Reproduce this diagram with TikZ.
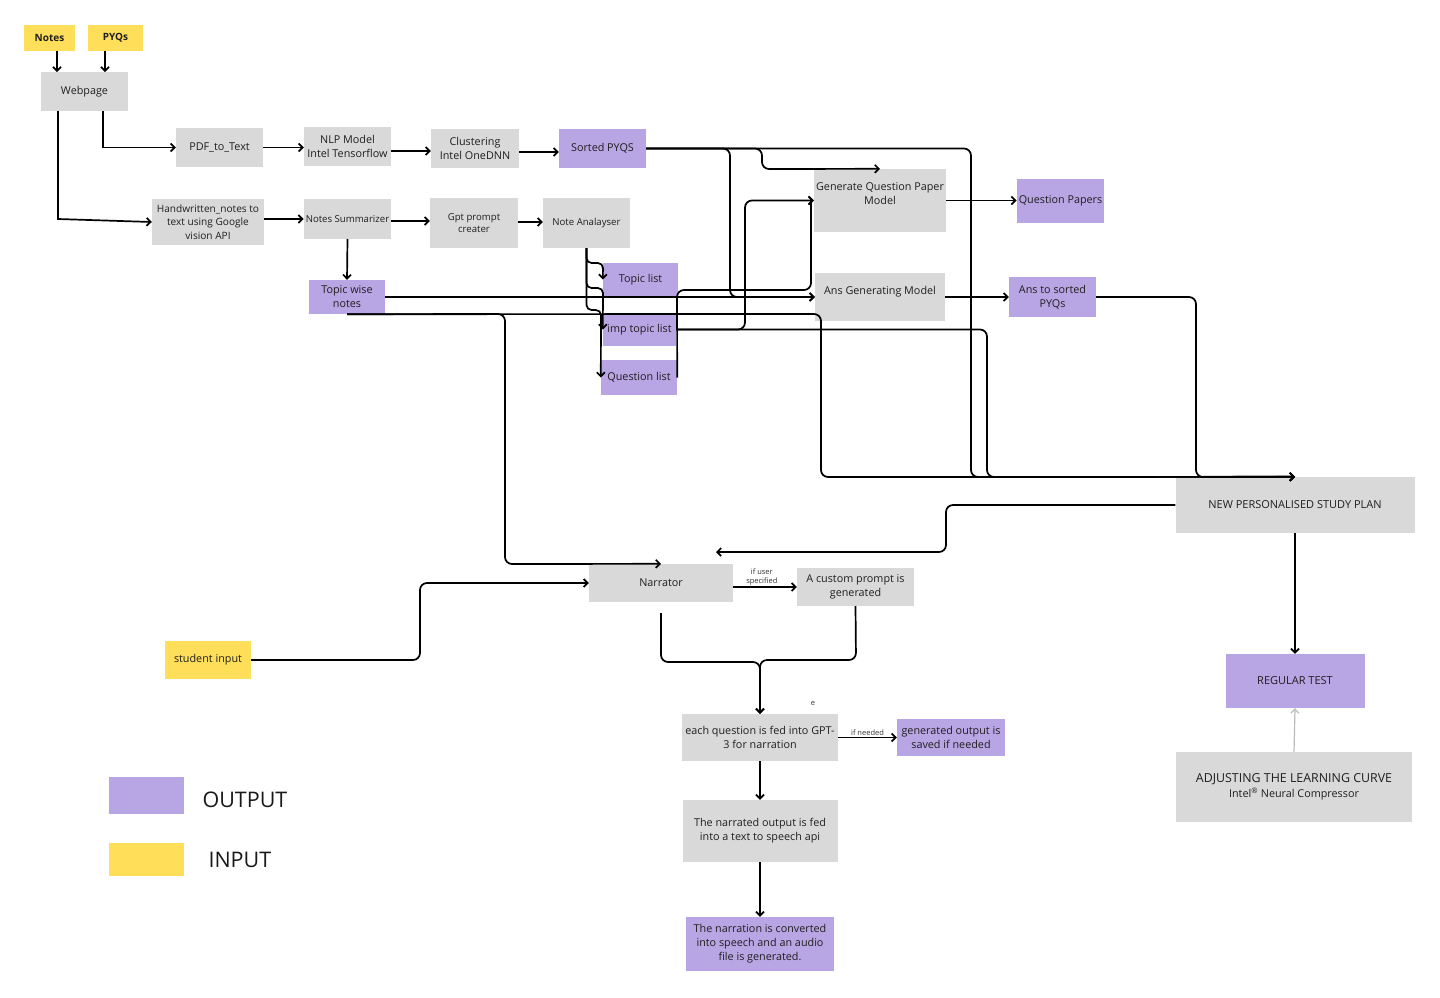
\documentclass[tikz,border=0pt]{standalone}
\usepackage{fontspec}
\setmainfont{Open Sans}
\usetikzlibrary{arrows.meta}

\definecolor{inyellow}{HTML}{FFDE59}
\definecolor{outpurple}{HTML}{B8A5E4}
\definecolor{procgray}{HTML}{D9D9D9}
\definecolor{hintgray}{HTML}{BBBBBB}

\begin{document}
\begin{tikzpicture}[x=1pt, y=-1pt,
    box/.style={rectangle, fill=procgray, inner sep=2pt, align=center, text=black!88,
        font=\fontsize{10.8}{14}\selectfont},
    inbox/.style={box, fill=inyellow},
    outbox/.style={box, fill=outpurple},
    arrow/.style={-{Straight Barb[length=4pt, width=8pt]}, line width=1.7pt, rounded corners=7pt},
    tag/.style={font=\fontsize{7.5}{8.5}\selectfont, align=center, inner sep=1pt, text=black!80}
]
\useasboundingbox (0,0) rectangle (1440,997);

% === INPUTS ===
\node[inbox, minimum width=51, minimum height=26, font=\fontsize{10}{12}\selectfont\bfseries] (notes) at (49.5,38) {Notes};
\node[inbox, minimum width=55, minimum height=26, font=\fontsize{10}{12}\selectfont\bfseries] (pyqs) at (115.5,38) {PYQs};
\node[box, minimum width=87, minimum height=39] (webpage) at (84.5,91.5) {Webpage};

% === PYQ PIPELINE ===
\node[box, minimum width=87, minimum height=39] (pdf) at (219.5,147.5) {PDF\_to\_Text};
\node[box, minimum width=87, minimum height=39] (nlp) at (347.5,146.5) {NLP Model\\Intel Tensorflow};
\node[box, minimum width=88, minimum height=39] (cluster) at (475,148.5) {Clustering\\Intel OneDNN};
\node[outbox, minimum width=87, minimum height=39] (sorted) at (602.5,148.5) {Sorted PYQS};

% === NOTES PIPELINE ===
\node[box, minimum width=112, minimum height=46, font=\fontsize{10.1}{13.5}\selectfont] (hand) at (208,222) {Handwritten\_notes to\\text using Google\\vision API};
\node[box, minimum width=87, minimum height=40, font=\fontsize{9.6}{12}\selectfont] (summ) at (347.5,219) {Notes Summarizer};
\node[box, minimum width=88, minimum height=50, font=\fontsize{9.6}{12.5}\selectfont] (gpt) at (474,223) {Gpt prompt\\creater};
\node[box, minimum width=87, minimum height=50, font=\fontsize{9.6}{12}\selectfont] (analyser) at (586.5,223) {Note Analayser};
\node[outbox, minimum width=76, minimum height=34] (topicnotes) at (347,297) {Topic wise\\notes};
\node[outbox, minimum width=75, minimum height=33] (topiclist) at (640.5,279.5) {Topic list};
\node[outbox, minimum width=73, minimum height=33] (imptopic) at (639.5,329.5) {imp topic list};
\node[outbox, minimum width=76, minimum height=35] (qlist) at (639,377.5) {Question list};

% === MODELS ===
\node[box, minimum width=130, minimum height=63] (gqp) at (880,200.5) {Generate Question Paper\\Model\\[0pt]\mbox{}};
\node[box, minimum width=130, minimum height=48] (ansgen) at (880,297) {Ans Generating Model\\[0pt]\mbox{}};
\node[outbox, minimum width=87, minimum height=44] (qpapers) at (1060.5,200.5) {Question Papers};
\node[outbox, minimum width=87, minimum height=40] (anssorted) at (1052.5,297) {Ans to sorted\\PYQs};

% === STUDY PLAN ===
\node[box, minimum width=239, minimum height=56, font=\fontsize{11}{13}\selectfont] (plan) at (1295,505) {NEW PERSONALISED STUDY PLAN};
\node[outbox, minimum width=139, minimum height=54, font=\fontsize{11}{13}\selectfont] (regtest) at (1295,681) {REGULAR TEST};
\node[box, minimum width=236, minimum height=70, font=\fontsize{12.4}{15}\selectfont] (adjust) at (1294,787) {ADJUSTING THE LEARNING CURVE\\{\fontsize{10.8}{12}\selectfont Intel\textsuperscript{\textregistered} Neural Compressor}};

% === NARRATION ===
\node[box, minimum width=144, minimum height=38] (narrator) at (661,583) {Narrator};
\node[box, minimum width=117, minimum height=38] (custom) at (855.5,587) {A custom prompt is\\generated};
\node[inbox, minimum width=86, minimum height=38] (student) at (208,660) {student input};
\node[box, minimum width=156, minimum height=47] (eachq) at (760,737.5) {each question is fed into GPT-\\3 for narration};
\node[outbox, minimum width=108, minimum height=37] (genout) at (951,737.5) {generated output is\\saved if needed};
\node[box, minimum width=155, minimum height=62] (narrated) at (760,831) {The narrated output is fed\\into a text to speech api};
\node[outbox, minimum width=148, minimum height=54] (converted) at (760,944) {The narration is converted\\into speech and an audio\\file is generated.};
\node[tag] (stray) at (813,703) {e};

% === LEGEND ===
\node[outbox, minimum width=75, minimum height=37] (keyout) at (146.5,795.5) {};
\node[font=\fontsize{21.5}{24}\selectfont, text=black!90, anchor=west] (keyouttext) at (199,800) {OUTPUT};
\node[inbox, minimum width=75, minimum height=33] (keyin) at (146.5,859.5) {};
\node[font=\fontsize{21.5}{24}\selectfont, text=black!90, anchor=west] (keyintext) at (205,860) {INPUT};

% === CONNECTORS: top ===
\draw[arrow] (notes.south -| 57,0) -- (57,72);
\draw[arrow] (pyqs.south -| 105,0) -- (105,72);
\draw[arrow, sharp corners] (103,111) -- (103,147.5) -- (pdf.west);
\draw[arrow, sharp corners] (58,111) -- (58,219) -- (hand.west);
\draw[arrow] (pdf.east) -- (nlp.west |- pdf.east);
\draw[arrow] (nlp.east |- 0,151) -- (cluster.west |- 0,151);
\draw[arrow] (cluster.east |- 0,152) -- (sorted.west |- 0,152);
\draw[arrow] (hand.east |- summ.west) -- (summ.west);
\draw[arrow] (summ.east |- 0,221) -- (gpt.west |- 0,221);
\draw[arrow] (gpt.east |- 0,222) -- (analyser.west |- 0,222);
\draw[arrow] (summ.south) -- (topicnotes.north);

% Note Analayser branches
\draw[arrow, rounded corners=5pt] (analyser.south) -- (586.5,263) -- (603,263) -- (topiclist.west);
\draw[arrow, rounded corners=5pt] (analyser.south) -- (586.5,288) -- (603,288) -- (imptopic.west);
\draw[arrow, rounded corners=5pt] (analyser.south) -- (586.5,310) -- (601,310) -- (qlist.west);

% Sorted PYQS
\draw[arrow] (sorted.east) -- (762,148.5) -- (762,169) -- (gqp.north);
\draw[arrow] (sorted.east) -- (730,148.5) -- (730,297) -- (ansgen.west);
\draw[arrow] (sorted.east) -- (971,148.5) -- (971,477) -- (plan.north);

% Topic wise notes
\draw[arrow] (topicnotes.east) -- (ansgen.west);
\draw[arrow] (topicnotes.south) -- (505,314) -- (505,564) -- (narrator.north);
\draw[arrow] (topicnotes.south) -- (821,314) -- (821,477) -- (plan.north);

% imp topic list / question list
\draw[arrow] (imptopic.east) -- (745,329.5) -- (745,200.5) -- (gqp.west);
\draw[arrow] (imptopic.east) -- (987,329.5) -- (987,477) -- (plan.north);
\draw[arrow] (qlist.east) -- (677,290) -- (811,290) -- (811,212) [sharp corners] -- (811,200.5) -- (gqp.west);

% model outputs
\draw[arrow] (gqp.east) -- (qpapers.west);
\draw[arrow] (ansgen.east) -- (anssorted.west);
\draw[arrow] (anssorted.east) -- (1196,297) -- (1196,477) -- (plan.north);

% === CONNECTORS: bottom ===
\coordinate (narrin) at (716,552);
\draw[arrow] (plan.west) -- (946,505) -- (946,552) -- (narrin);
\draw[arrow] (plan.south) -- (regtest.north);
\draw[arrow, draw=hintgray, line width=1.2pt] (adjust.north) -- (regtest.south);
\draw[arrow] (student.east) -- (420,660) -- (420,583) -- (narrator.west);
\draw[arrow] (narrator.east |- custom.west) -- node[tag, above, pos=0.45] {if user\\specified} (custom.west);
\draw[arrow] ([yshift=-11pt]narrator.south) -- (661,662) -- (760,662) -- (eachq.north);
\draw[arrow] (custom.south) -- (856,660) -- (760,660) -- (eachq.north);
\draw[arrow] (eachq.east) -- node[tag, above] {if needed} (genout.west);
\draw[arrow] (eachq.south) -- (narrated.north);
\draw[arrow] (narrated.south) -- (converted.north);

\end{tikzpicture}
\end{document}
